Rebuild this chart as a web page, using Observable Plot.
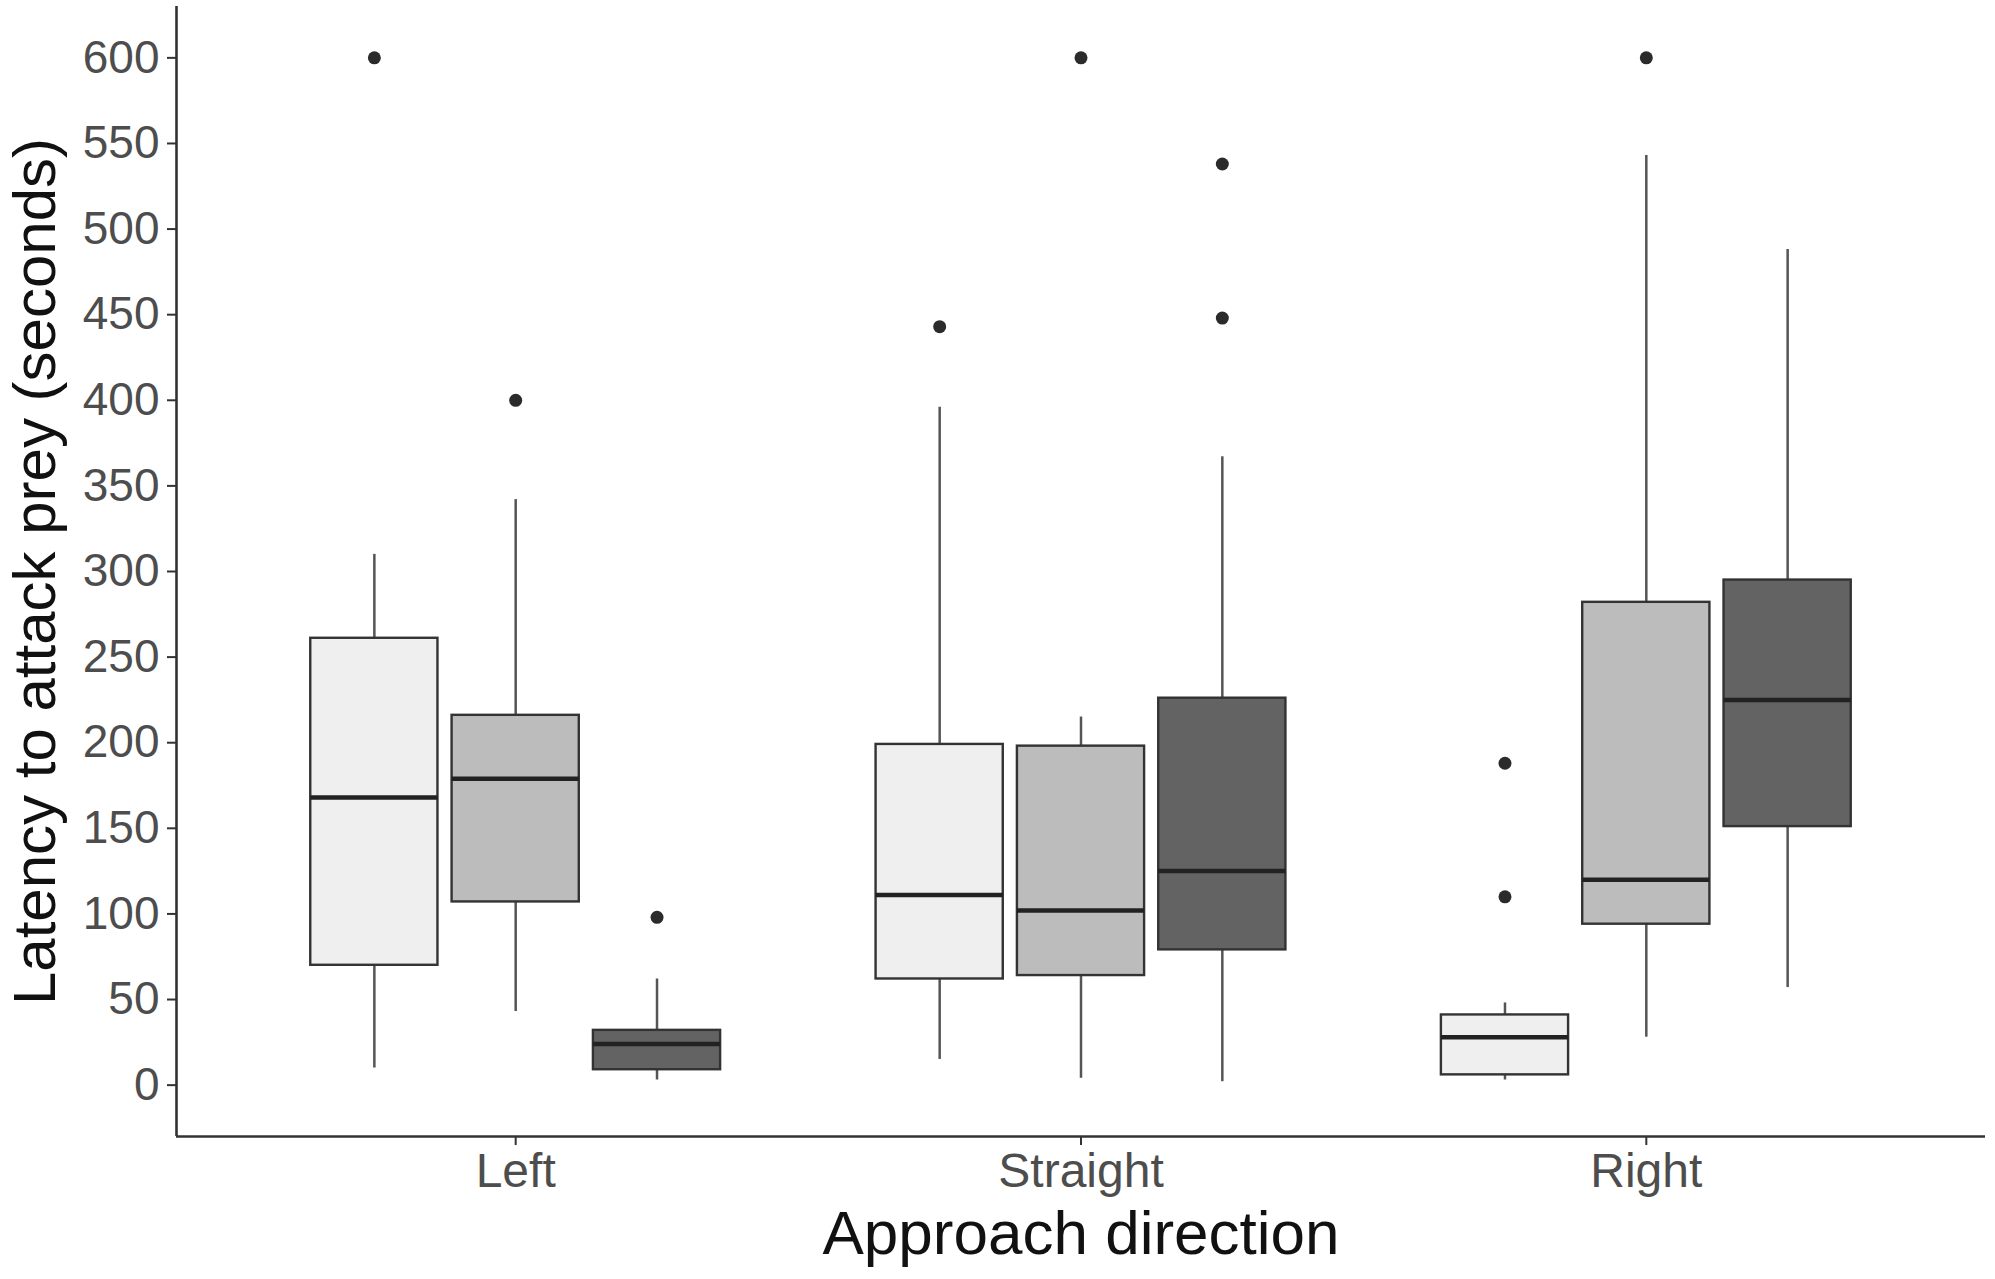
<!DOCTYPE html>
<html>
<head>
<meta charset="utf-8">
<script src="https://cdn.jsdelivr.net/npm/d3@7"></script>
<script src="https://cdn.jsdelivr.net/npm/@observablehq/plot@0.6"></script>
<style>
  html, body { margin: 0; padding: 0; background: #fff; }
  #chart svg { display: block; }
</style>
</head>
<body>
<div id="chart"></div>
<script>
// ---- data ----
const directions = ["Left", "Straight", "Right"];
const groups = ["Group 1", "Group 2", "Group 3"];
const fills = ["#efefef", "#bcbcbc", "#636363"];

// one entry per box, order: Left g1..g3, Straight g1..g3, Right g1..g3
const boxDirection = ["Left","Left","Left","Straight","Straight","Straight","Right","Right","Right"];
const boxGroup = ["Group 1","Group 2","Group 3","Group 1","Group 2","Group 3","Group 1","Group 2","Group 3"];
const whiskerLow  = [10, 43, 3, 15, 4, 2, 3, 28, 57];
const q1          = [70, 107, 9, 62, 64, 79, 6, 94, 151];
const median      = [168, 179, 24, 111, 102, 125, 28, 120, 225];
const q3          = [261, 216, 32, 199, 198, 226, 41, 282, 295];
const whiskerHigh = [310, 342, 62, 396, 215, 367, 48, 543, 488];

const outlierDirection = ["Left","Left","Left","Straight","Straight","Straight","Straight","Right","Right","Right"];
const outlierGroup     = ["Group 1","Group 2","Group 3","Group 1","Group 2","Group 3","Group 3","Group 1","Group 1","Group 2"];
const outlierValue     = [600, 400, 98, 443, 600, 448, 538, 188, 110, 600];

const yTicks = [0, 50, 100, 150, 200, 250, 300, 350, 400, 450, 500, 550, 600];
const yTitle = "Latency to attack prey (seconds)";
const xTitle = "Approach direction";

// ---- derived tables ----
const dodge = 0.25, halfBox = 0.1125;
const pos = (dir, g) => directions.indexOf(dir) + 1 + (groups.indexOf(g) - 1) * dodge;
const boxes = boxDirection.map((d, i) => ({
  direction: d, group: boxGroup[i], x: pos(d, boxGroup[i]),
  lo: whiskerLow[i], q1: q1[i], med: median[i], q3: q3[i], hi: whiskerHigh[i]
}));
const outliers = outlierDirection.map((d, i) => ({
  direction: d, group: outlierGroup[i], x: pos(d, outlierGroup[i]), y: outlierValue[i]
}));

const font = "'Liberation Sans', Arial, Helvetica, sans-serif";

const chart = Plot.plot({
  width: 1995,
  height: 1279,
  marginTop: 6,
  marginRight: 10,
  marginBottom: 143,
  marginLeft: 176,
  style: { fontFamily: font, background: "#fff", overflow: "visible" },
  x: { type: "linear", domain: [0.4, 3.6] },
  y: { domain: [-30, 630] },
  color: { domain: groups, range: fills },
  marks: [
    // whiskers
    Plot.ruleX(boxes, { x: "x", y1: "lo", y2: "q1", stroke: "#555", strokeWidth: 2.5 }),
    Plot.ruleX(boxes, { x: "x", y1: "q3", y2: "hi", stroke: "#555", strokeWidth: 2.5 }),
    // boxes
    Plot.rectY(boxes, {
      x1: d => d.x - halfBox, x2: d => d.x + halfBox, y1: "q1", y2: "q3",
      fill: "group", stroke: "#333", strokeWidth: 2.4
    }),
    // medians
    Plot.ruleY(boxes, {
      x1: d => d.x - halfBox, x2: d => d.x + halfBox, y: "med",
      stroke: "#222", strokeWidth: 4.5
    }),
    // outliers
    Plot.dot(outliers, { x: "x", y: "y", r: 6.5, fill: "#2b2b2b", stroke: "none" }),
    // axes
    Plot.axisY({
      ticks: yTicks, tickSize: 9, tickPadding: 8, label: null,
      fontSize: 46, color: "#4d4d4d", stroke: "#333", strokeWidth: 2
    }),
    Plot.axisX({
      ticks: [1, 2, 3], tickFormat: i => directions[i - 1], tickSize: 9, tickPadding: 7,
      label: null, fontSize: 48, color: "#4d4d4d", stroke: "#333", strokeWidth: 2
    }),
    Plot.ruleX([0.4], { stroke: "#333", strokeWidth: 2.6 }),
    Plot.ruleY([-30], { stroke: "#333", strokeWidth: 2.6 }),
    // axis titles
    Plot.text([yTitle], {
      text: d => d, frameAnchor: "left", dx: -122, rotate: -90,
      textAnchor: "middle", lineAnchor: "bottom", fontSize: 60, fill: "#111"
    }),
    Plot.text([xTitle], {
      text: d => d, frameAnchor: "bottom", dy: 117,
      textAnchor: "middle", lineAnchor: "bottom", fontSize: 62, fill: "#111"
    })
  ]
});
document.getElementById("chart").appendChild(chart);
</script>
</body>
</html>
